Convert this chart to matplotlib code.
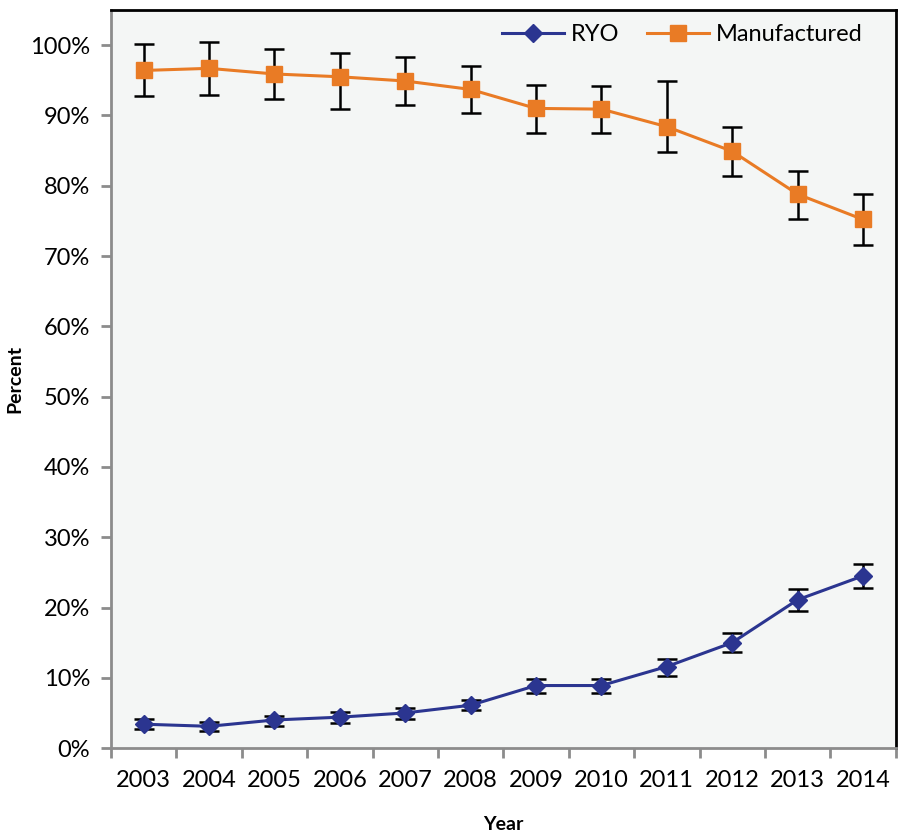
import numpy as np
import matplotlib.pyplot as plt
from matplotlib.lines import Line2D
from matplotlib.ticker import FixedLocator, PercentFormatter

plt.rcParams['font.family'] = ['Lato', 'DejaVu Sans']

years = ['2003', '2004', '2005', '2006', '2007', '2008',
         '2009', '2010', '2011', '2012', '2013', '2014']

ryo = [3.4, 3.1, 4.0, 4.4, 5.0, 6.1, 8.9, 8.9, 11.6, 15.0, 21.1, 24.5]
ryo_hi = [4.1, 3.7, 4.6, 5.1, 5.7, 6.9, 9.9, 9.9, 12.7, 16.4, 22.6, 26.2]
ryo_lo = [2.7, 2.4, 3.2, 3.6, 4.2, 5.4, 7.8, 7.8, 10.3, 13.6, 19.5, 22.8]

man = [96.4, 96.7, 95.9, 95.5, 94.9, 93.7, 91.0, 90.9, 88.4, 84.9, 78.8, 75.2]
man_hi = [100.1, 100.4, 99.4, 98.9, 98.3, 97.0, 94.3, 94.2, 94.9, 88.3, 82.1, 78.8]
man_lo = [92.8, 92.9, 92.3, 90.9, 91.5, 90.3, 87.5, 87.5, 84.8, 81.4, 75.2, 71.6]

ryo_col = '#2b3590'
man_col = '#e97b25'

x = np.arange(len(years))

fig = plt.figure(figsize=(9.02, 8.34), dpi=100)
ax = fig.add_axes([0.123, 0.103, 0.870, 0.885])
ax.set_facecolor('#f4f6f5')

def err(v, hi, lo):
    v, hi, lo = np.array(v), np.array(hi), np.array(lo)
    return [v - lo, hi - v]

ax.errorbar(x, ryo, yerr=err(ryo, ryo_hi, ryo_lo), color=ryo_col, lw=2.2,
            marker='D', ms=9, mec=ryo_col, ecolor='black', elinewidth=1.8,
            capsize=7, capthick=1.8, zorder=3)
ax.errorbar(x, man, yerr=err(man, man_hi, man_lo), color=man_col, lw=2.2,
            marker='s', ms=11, mec=man_col, ecolor='black', elinewidth=1.8,
            capsize=7, capthick=1.8, zorder=3)

ax.set_xlim(-0.5, len(years) - 0.5)
ax.set_ylim(0, 105)
ax.set_yticks(np.arange(0, 101, 10))
ax.yaxis.set_major_formatter(PercentFormatter(decimals=0))
ax.set_xticks(x)
ax.set_xticklabels(years)
ax.xaxis.set_minor_locator(FixedLocator(np.arange(-0.5, len(years), 1)))

ax.tick_params(axis='x', which='major', length=0, pad=16, labelsize=17)
ax.tick_params(axis='x', which='minor', length=7, width=2, color='#8c8c8c')
ax.tick_params(axis='y', length=7, width=2, color='#8c8c8c', labelsize=17, pad=8)

for s in ['left', 'bottom']:
    ax.spines[s].set_color('#8c8c8c')
    ax.spines[s].set_linewidth(2)
for s in ['top', 'right']:
    ax.spines[s].set_color('black')
    ax.spines[s].set_linewidth(2)

ax.set_xlabel('Year', fontsize=14, fontweight='bold')
ax.set_ylabel('Percent', fontsize=14, fontweight='bold')
ax.xaxis.set_label_coords(0.5, -0.092)
ax.yaxis.set_label_coords(-0.112, 0.5)

handles = [
    Line2D([], [], color=ryo_col, lw=2.2, marker='D', ms=9, mec=ryo_col),
    Line2D([], [], color=man_col, lw=2.2, marker='s', ms=11, mec=man_col),
]
leg = ax.legend(handles, ['RYO', 'Manufactured'], loc='upper right',
                bbox_to_anchor=(0.985, 1.01), ncol=2, frameon=False,
                fontsize=17, handlelength=2.6, columnspacing=1.2,
                handletextpad=0.3)

plt.savefig('out.png', dpi=100)
